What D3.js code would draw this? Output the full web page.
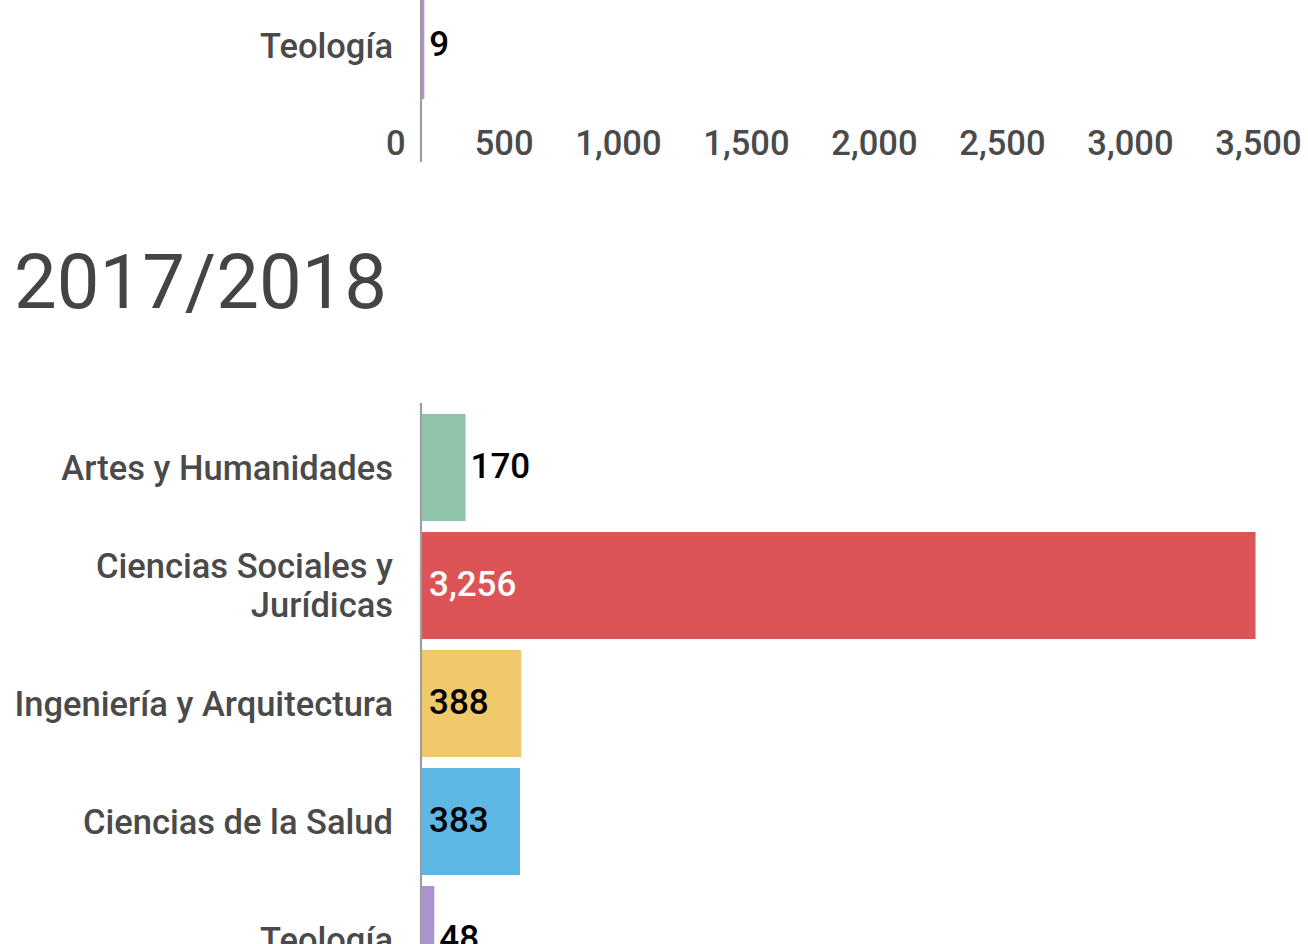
<!DOCTYPE html>
<html>
<head>
<meta charset="utf-8">
<script src="https://cdn.jsdelivr.net/npm/d3@7"></script>
<style>
  body { margin: 0; background: #fff; }
  svg { display: block; font-family: Roboto, "Noto Sans", sans-serif; }
</style>
</head>
<body>
<div id="chart-area"></div>
<script>
// data
var title = "2017/2018";
var categories = ["Artes y Humanidades", "Ciencias Sociales y Jurídicas", "Ingeniería y Arquitectura", "Ciencias de la Salud", "Teología"];
var values = [170, 3256, 388, 383, 48];
// tail of the previous panel (only its last row is visible)
var prevCategories = ["Teología"];
var prevValues = [9];
var xTicks = [0, 500, 1000, 1500, 2000, 2500, 3000, 3500];
var barColors = ["#8FC4AA", "#DC5456", "#EFC96A", "#5DB6E4", "#AD93CC"];

var width = 1308, height = 944;
var step = 118, pad = 0.093;

var svg = d3.select("#chart-area")
  .append("svg")
    .attr("width", width)
    .attr("height", height);

var x = d3.scaleLinear()
  .domain([0, 3500])
  .range([422, 1318]);

var color = d3.scaleOrdinal()
  .domain(categories)
  .range(barColors);

var fmt = d3.format(",");

// wrap long category labels onto several lines
function wrap(text, maxWidth) {
  text.each(function() {
    var t = d3.select(this),
        words = t.text().split(/\s+/),
        lines = [], line = [];
    t.text(null);
    var probe = t.append("tspan");
    words.forEach(function(w) {
      line.push(w);
      probe.text(line.join(" "));
      if (probe.node().getComputedTextLength() > maxWidth && line.length > 1) {
        line.pop();
        lines.push(line.join(" "));
        line = [w];
      }
    });
    lines.push(line.join(" "));
    probe.remove();
    var lh = 39, y0 = -(lines.length - 1) * lh / 2;
    lines.forEach(function(l, i) {
      t.append("tspan")
        .attr("x", t.attr("x"))
        .attr("y", y0 + i * lh)
        .attr("dy", "0.35em")
        .text(l);
    });
  });
}

function drawPanel(top, cats, vals) {
  var bottom = top + step * (cats.length - pad + 2 * pad);
  var y = d3.scaleBand()
    .domain(cats)
    .range([top, bottom])
    .paddingInner(pad)
    .paddingOuter(pad);

  var g = svg.append("g");

  // bars
  g.selectAll("rect")
    .data(cats)
    .enter()
    .append("rect")
      .attr("x", x(0))
      .attr("y", function(d) { return y(d); })
      .attr("width", function(d, i) { return x(vals[i]) - x(0); })
      .attr("height", y.bandwidth())
      .attr("fill", function(d) { return color(d); });

  // category labels
  g.selectAll(".cat")
    .data(cats)
    .enter()
    .append("text")
      .attr("class", "cat")
      .attr("x", 0)
      .attr("transform", function(d) { return "translate(393," + (y(d) + y.bandwidth() / 2) + ")"; })
      .attr("text-anchor", "end")
      .attr("font-size", "34.5px")
      .attr("font-weight", 500)
      .attr("fill", "#4a4a4a")
      .text(function(d) { return d; })
      .call(wrap, 392);

  // value labels
  g.selectAll(".val")
    .data(cats)
    .enter()
    .append("text")
      .attr("class", "val")
      .attr("y", function(d) { return y(d) + y.bandwidth() / 2; })
      .attr("dy", "0.3em")
      .attr("font-size", "35px")
      .attr("font-weight", 500)
      .text(function(d, i) { return fmt(vals[i]); })
      .each(function(d, i) {
        var t = d3.select(this),
            tw = this.getComputedTextLength(),
            bw = x(vals[i]) - x(0);
        if (bw > tw + 14) {
          t.attr("x", x(0) + 7)
           .attr("fill", d3.lab(color(d)).l < 60 ? "#fff" : "#000");
        } else {
          t.attr("x", x(vals[i]) + 5).attr("fill", "#000");
        }
      });

  // x axis
  var xAxis = g.append("g")
    .attr("transform", "translate(0," + bottom + ")")
    .call(d3.axisBottom(x).tickValues(xTicks).tickSize(0).tickFormat(fmt));
  xAxis.select(".domain").remove();
  xAxis.selectAll("text")
    .attr("x", -17)
    .attr("y", 21)
    .attr("dy", "0.71em")
    .attr("text-anchor", "end")
    .attr("font-family", "Roboto, sans-serif")
    .attr("font-size", "34.5px")
    .attr("font-weight", 500)
    .attr("fill", "#4a4a4a");

  // baseline
  g.append("line")
    .attr("x1", x(0) - 1).attr("x2", x(0) - 1)
    .attr("y1", top).attr("y2", bottom + 52)
    .attr("stroke", "#9e9e9e")
    .attr("stroke-width", 2.2);
}

drawPanel(110 - step * (1 + pad), prevCategories, prevValues);

svg.append("text")
  .attr("x", 14)
  .attr("y", 308)
  .attr("font-size", "76px")
  .attr("fill", "#444")
  .text(title);

drawPanel(403, categories, values);
</script>
</body>
</html>
